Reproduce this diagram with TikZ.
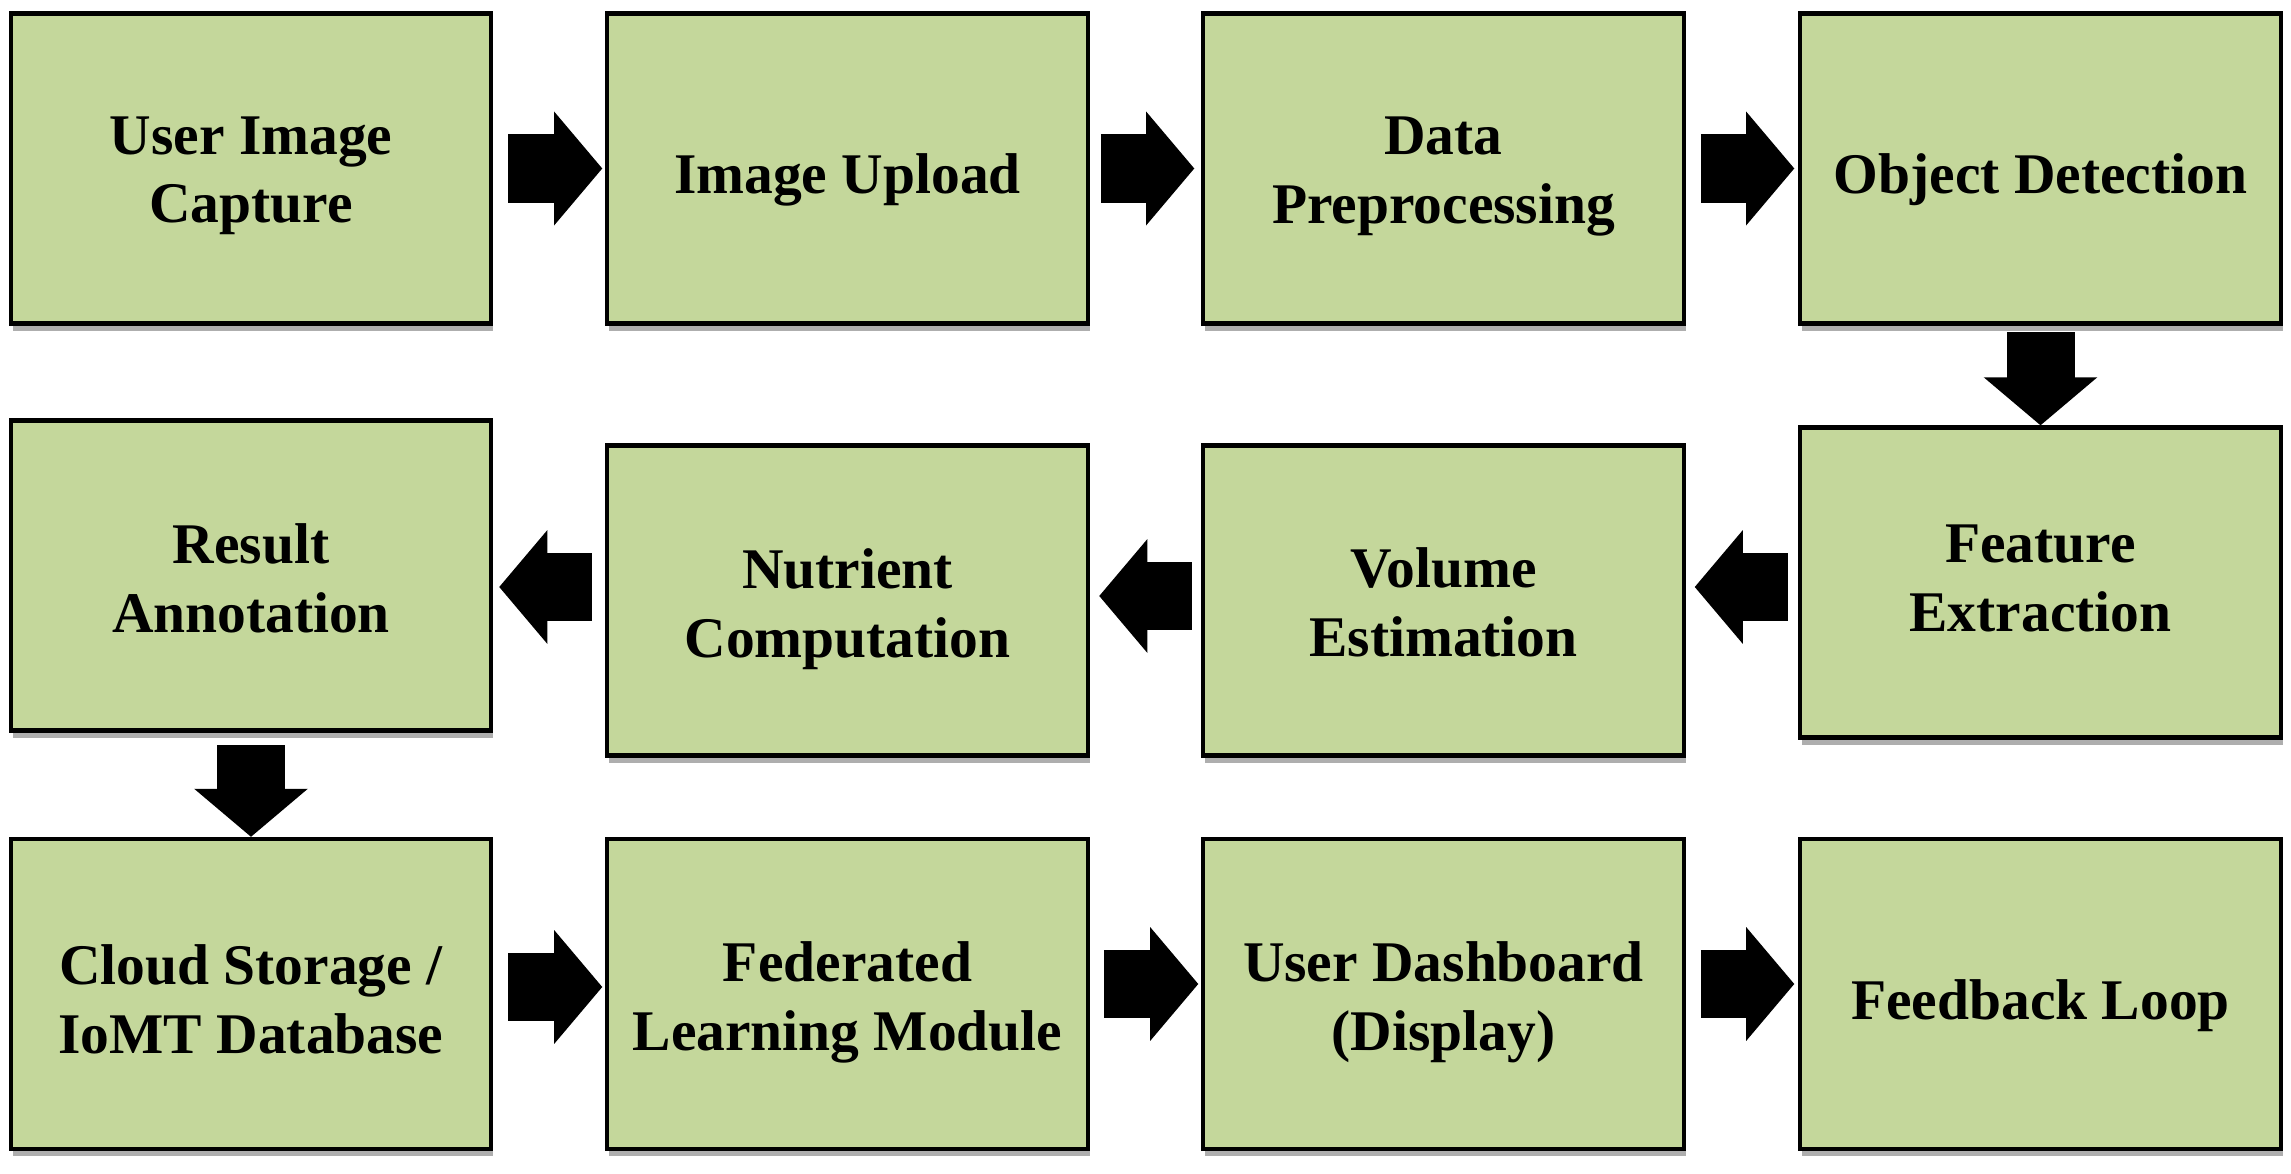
\documentclass[tikz,border=0pt]{standalone}
\usepackage{fontspec}
\setmainfont{Liberation Serif}
\usetikzlibrary{arrows.meta,calc,shadows}
\definecolor{boxgreen}{RGB}{196,215,155}
\tikzset{
  box/.style={draw=black, line width=1.2pt, fill=boxgreen,
    minimum width=4.80cm, minimum height=3.10cm,
    inner sep=0pt,
    drop shadow={shadow xshift=0.6pt, shadow yshift=-2pt, fill=black!70, opacity=0.45}},
  txt/.style={align=center, inner sep=0pt, yshift=#1,
    execute at begin node=\strut, execute at end node=\strut,
    font=\bfseries\fontsize{16.35pt}{19.6pt}\selectfont},
  txt/.default=-0.115cm,
  blk/.style={draw=black, line width=0.68cm,
    -{Triangle[width=1.13cm, length=0.48cm, line width=1pt]}}
}
\begin{document}
\begin{tikzpicture}[x=0.01cm, y=-0.01cm]
\useasboundingbox (0,0) rectangle (2291,1174);
% row 1
\node[box, label={[txt=-0.115cm]center:User Image\\Capture}] (b1) at (251,168.5) {};
\node[box, label={[txt=-0.115cm]center:Image Upload}] (b2) at (847.5,168.5) {};
\node[box, label={[txt=-0.12cm]center:Data\\Preprocessing}] (b3) at (1443.5,168.5) {};
\node[box, label={[txt=-0.115cm]center:Object Detection}] (b4) at (2040.5,168.5) {};
% row 2
\node[box, label={[txt=-0.06cm]center:Feature\\Extraction}] (b8) at (2040.5,582.5) {};
\node[box, label={[txt=-0.115cm]center:Volume\\Estimation}] (b7) at (1443.5,600.5) {};
\node[box, label={[txt=-0.125cm]center:Nutrient\\Computation}] (b6) at (847.5,600.5) {};
\node[box, label={[txt=-0.125cm]center:Result\\Annotation}] (b5) at (251,575.5) {};
% row 3
\node[box, label={[txt=-0.15cm]center:Cloud Storage /\\IoMT Database}] (b9) at (251,994) {};
\node[box, label={[txt=-0.125cm]center:Federated\\Learning Module}] (b10) at (847.5,994) {};
\node[box, label={[txt=-0.125cm]center:User Dashboard\\(Display)}] (b11) at (1443.5,994) {};
\node[box, label={[txt=-0.12cm]center:Feedback Loop}] (b12) at (2040.5,994) {};
% arrows row 1
\draw[blk] ($(b1.east)+(15,0)$) -- ($(b2.west)+(-3,0)$);
\draw[blk] ($(b2.east)+(11,0)$) -- ($(b3.west)+(-7,0)$);
\draw[blk] ($(b3.east)+(15,0)$) -- ($(b4.west)+(-4,0)$);
% down
\draw[blk] ($(b4.south)+(0,6.5)$) -- (b8.north);
% row 2 (leftwards)
\draw[blk] ($(b8.west)+(-10.5,4.5)$) -- ($(b7.east)+(9,-13.5)$);
\draw[blk] ($(b7.west)+(-9.5,-4.5)$) -- ($(b6.east)+(9.5,-4.5)$);
\draw[blk] ($(b6.west)+(-13.5,-13.5)$) -- ($(b5.east)+(6,11.5)$);
% down
\draw[blk] ($(b5.south)+(0,12.5)$) -- (b9.north);
% row 3
\draw[blk] ($(b9.east)+(15,-7)$) -- ($(b10.west)+(-3,-7)$);
\draw[blk] ($(b10.east)+(14,-10)$) -- ($(b11.west)+(-3,-10)$);
\draw[blk] ($(b11.east)+(15,-10)$) -- ($(b12.west)+(-4,-10)$);
\end{tikzpicture}
\end{document}
